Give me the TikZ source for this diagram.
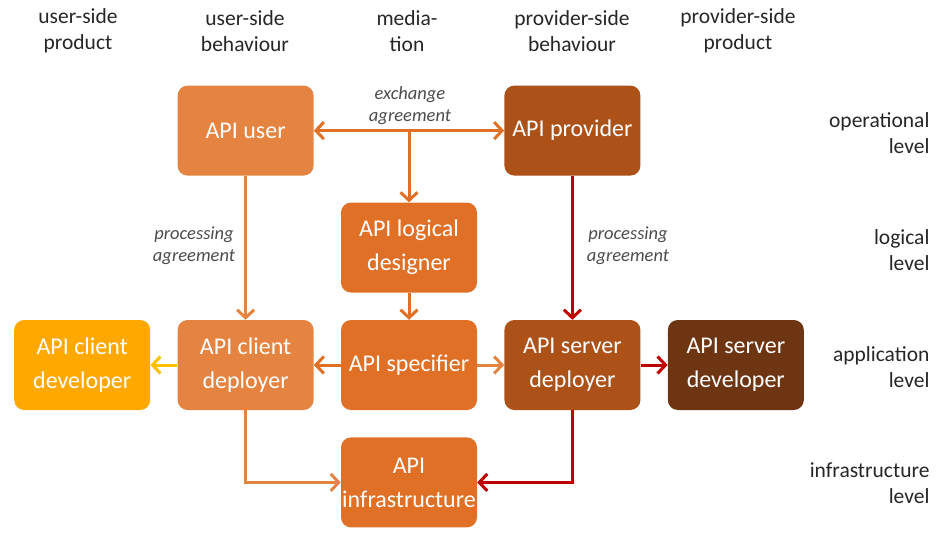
\documentclass[tikz,border=0pt]{standalone}
\usepackage{fontspec}
\setmainfont{Carlito}
\usetikzlibrary{positioning, arrows.meta}

\definecolor{lightorange}{RGB}{229,132,64}
\definecolor{midorange}{RGB}{224,112,38}
\definecolor{darkorange}{RGB}{172,82,25}
\definecolor{brownish}{RGB}{110,53,18}
\definecolor{amber}{RGB}{255,168,0}
\definecolor{amberline}{RGB}{255,192,0}
\definecolor{darkred}{RGB}{192,0,0}

\begin{document}
\begin{tikzpicture}[
        x=1pt, y=-1pt,
        node distance=27pt,
        role/.style={fill=#1, rounded corners=10pt, text=white, align=center,
            minimum width=136pt, minimum height=90pt, inner sep=1pt,
            font=\fontsize{24}{34}\selectfont},
        flow/.style={draw=#1, line width=3pt, ->},
        header/.style={align=center, text=black!85, font=\fontsize{21.5}{26}\selectfont},
        level/.style={align=right, anchor=east, text=black!85, font=\fontsize{21.5}{26}\selectfont},
        note/.style={align=center, text=black!70, font=\itshape\fontsize{18.5}{22}\selectfont},
        >={Straight Barb[length=8pt, width=17pt]}
    ]
    \useasboundingbox (0,0) rectangle (945,540);

    % middle row
    \node[role=midorange] (specifier) at (409,365) {API specifier};
    \node[role=lightorange] (cdeployer) [left=of specifier] {API client\\deployer};
    \node[role=amber] (cdeveloper) [left=of cdeployer] {API client\\developer};
    \node[role=darkorange] (sdeployer) [right=of specifier] {API server\\deployer};
    \node[role=brownish] (sdeveloper) [right=of sdeployer] {API server\\developer};

    \node[role=midorange] (designer) [above=of specifier] {API logical\\designer};
    \node[role=midorange] (infra) [below=of specifier] {API\\infrastructure};
    \node[role=lightorange] (user) [above=144pt of cdeployer] {API user};
    \node[role=darkorange] (provider) [above=144pt of sdeployer] {API provider};

    % column and row labels
    \node[header] (hup) at (78,31) {user-side\\product};
    \node[header] (hub) at (245,31) {user-side\\behaviour};
    \node[header] (hmed) at (407,31) {media-\\tion};
    \node[header] (hpb) at (572,31) {provider-side\\behaviour};
    \node[header] (hpp) at (738,31) {provider-side\\product};

    \node[level] (lop) at (933,133) {operational\\level};
    \node[level] (llog) at (933,250) {logical\\level};
    \node[level] (lapp) at (933,367) {application\\level};
    \node[level] (linf) at (933,483) {infrastructure\\level};

    \node[note] (exch) at (410,106) {exchange\\agreement};
    \node[note] (procu) at (194,246) {processing\\agreement};
    \node[note] (procp) at (628,246) {processing\\agreement};

    % connectors
    \draw[flow=midorange, <->] (user) -- (provider);
    \draw[flow=midorange] (designer.north |- user.east) -- (designer);
    \draw[flow=lightorange] (user) -- (cdeployer);
    \draw[flow=darkred] (provider) -- (sdeployer);
    \draw[flow=midorange] (designer) -- (specifier);
    \draw[flow=midorange] (specifier) -- (cdeployer);
    \draw[flow=lightorange] (specifier) -- (sdeployer);
    \draw[flow=amberline] (cdeployer) -- (cdeveloper);
    \draw[flow=darkred] (sdeployer) -- (sdeveloper);
    \draw[flow=lightorange] (cdeployer.south) |- (infra.west);
    \draw[flow=darkred] (sdeployer.south) |- (infra.east);

\end{tikzpicture}
\end{document}
